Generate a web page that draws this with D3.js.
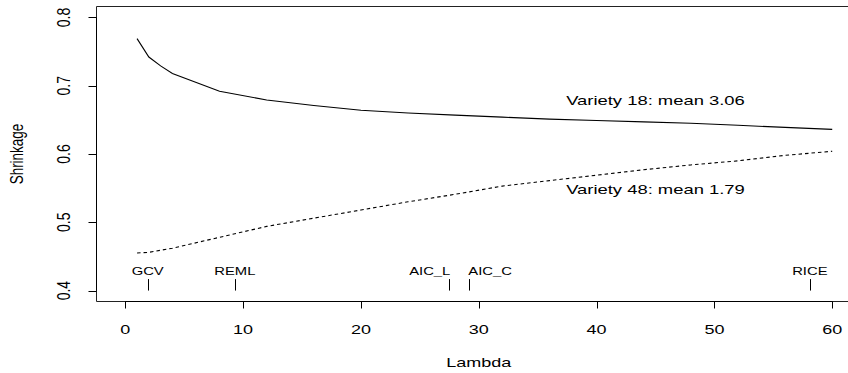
<!DOCTYPE html>
<html>
<head>
<meta charset="utf-8">
<script src="https://cdn.jsdelivr.net/npm/d3@7"></script>
<style>
	body { margin: 0; background: #fff; }
	svg { display: block; }
	text { font-family: 'Liberation Sans', Arial, sans-serif; fill: #000; }
</style>
</head>
<body>
<svg id="chart" width="848" height="373"></svg>
<script>

/* Shrinkage against lambda for two varieties, with the lambda chosen
by each estimator marked along the bottom of the plot */

// Lambda grid of the two curves
var lambdas = [1, 2, 3, 4, 8, 12, 16, 20, 24, 28, 32, 36, 40, 44, 48, 52, 56, 60];

// Shrinkage, variety 18 (solid) and variety 48 (dashed)
var variety18 = [0.769, 0.742, 0.729, 0.718, 0.692, 0.679, 0.671, 0.664, 0.660,
	0.657, 0.654, 0.651, 0.649, 0.647, 0.645, 0.642, 0.639, 0.636];
var variety48 = [0.455, 0.456, 0.459, 0.462, 0.478, 0.494, 0.506, 0.518, 0.530,
	0.541, 0.553, 0.561, 0.569, 0.577, 0.584, 0.590, 0.598, 0.604];

// Curve labels
var seriesNames = ['Variety 18: mean 3.06', 'Variety 48: mean 1.79'];
var seriesLabelAt = [[45, 0.68], [45, 0.55]];

// Estimators and the lambda each one picks
var estimators = ['GCV', 'REML', 'AIC_L', 'AIC_C', 'RICE'];
var estimatorLambda = [1.9, 9.3, 27.5, 29.2, 58.1];

// Axis ticks and titles
var xTicks = [0, 10, 20, 30, 40, 50, 60];
var yTicks = [0.4, 0.5, 0.6, 0.7, 0.8];
var xTitle = 'Lambda';
var yTitle = 'Shrinkage';

// The picture is stretched sideways, so text is too
var stretch = 1.385;

var svg = d3.select('#chart');

// Scales (R style: data range padded by 4% on each side)
var xScale = d3.scaleLinear()
	.domain([-2.4, 62.4])
	.range([97, 860.5]);

var yScale = d3.scaleLinear()
	.domain([0.384, 0.816])
	.range([301.5, 6.5]);

var plotLeft = xScale.range()[0] - 0.5;
var plotBottom = yScale.range()[0];
var plotTop = yScale.range()[1];

// Plot box (right edge falls outside the picture)
svg.append('path')
	.attr('d', 'M900,' + plotTop + 'H' + plotLeft + 'V' + plotBottom + 'H900')
	.attr('fill', 'none')
	.attr('stroke', '#222')
	.attr('stroke-width', 1);

// x axis
var xAxis = svg.append('g').attr('class', 'x axis');

xAxis.append('line')
	.attr('x1', xScale(xTicks[0]))
	.attr('x2', xScale(xTicks[xTicks.length - 1]))
	.attr('y1', plotBottom)
	.attr('y2', plotBottom)
	.attr('stroke', '#000');

xAxis.selectAll('.tick')
	.data(xTicks)
	.enter()
	.append('line')
	.attr('class', 'tick')
	.attr('x1', function(d) { return Math.round(xScale(d)) + 0.5; })
	.attr('x2', function(d) { return Math.round(xScale(d)) + 0.5; })
	.attr('y1', plotBottom)
	.attr('y2', plotBottom + 7)
	.attr('stroke', '#000');

xAxis.selectAll('.tick-label')
	.data(xTicks)
	.enter()
	.append('text')
	.attr('class', 'tick-label')
	.attr('transform', function(d) {
		return 'translate(' + xScale(d) + ',333.5) scale(' + stretch + ',1)';
	})
	.style('font-size', '13px')
	.style('text-anchor', 'middle')
	.text(function(d) { return d; });

svg.append('text')
	.attr('transform', 'translate(' + d3.mean(xScale.range()) + ',366.5) scale(' + stretch + ',1)')
	.style('font-size', '13px')
	.style('text-anchor', 'middle')
	.text(xTitle);

// y axis
var yAxis = svg.append('g').attr('class', 'y axis');

yAxis.append('line')
	.attr('x1', plotLeft)
	.attr('x2', plotLeft)
	.attr('y1', yScale(yTicks[0]))
	.attr('y2', yScale(yTicks[yTicks.length - 1]))
	.attr('stroke', '#000');

yAxis.selectAll('.tick')
	.data(yTicks)
	.enter()
	.append('line')
	.attr('class', 'tick')
	.attr('x1', plotLeft - 8)
	.attr('x2', plotLeft)
	.attr('y1', function(d) { return Math.round(yScale(d)) + 0.5; })
	.attr('y2', function(d) { return Math.round(yScale(d)) + 0.5; })
	.attr('stroke', '#000');

yAxis.selectAll('.tick-label')
	.data(yTicks)
	.enter()
	.append('text')
	.attr('class', 'tick-label')
	.attr('transform', function(d) {
		return 'translate(70,' + yScale(d) + ') scale(1.35,1) rotate(-90)';
	})
	.style('font-size', '14px')
	.style('text-anchor', 'middle')
	.text(function(d) { return d3.format('.1f')(d); });

svg.append('text')
	.attr('transform', 'translate(23,' + ((plotTop + plotBottom) / 2) + ') scale(1.3,1) rotate(-90)')
	.style('font-size', '13.5px')
	.style('text-anchor', 'middle')
	.text(yTitle);

// Curves
var line = d3.line()
	.x(function(d) { return xScale(d[0]); })
	.y(function(d) { return yScale(d[1]); });

var curves = [variety18, variety48].map(function(values) {
	return lambdas.map(function(l, i) { return [l, values[i]]; });
});

svg.selectAll('.curve')
	.data(curves)
	.enter()
	.append('path')
	.attr('class', 'curve')
	.attr('d', line)
	.attr('fill', 'none')
	.attr('stroke', '#000')
	.attr('stroke-width', 1.1)
	.attr('stroke-dasharray', function(d, i) { return i == 0 ? null : '3.5,3'; });

// Curve labels
svg.selectAll('.series-label')
	.data(seriesNames)
	.enter()
	.append('text')
	.attr('class', 'series-label')
	.attr('transform', function(d, i) {
		var p = seriesLabelAt[i];
		return 'translate(' + xScale(p[0]) + ',' + (yScale(p[1]) + 5.5) + ') scale(' + stretch + ',1)';
	})
	.style('font-size', '13.3px')
	.style('text-anchor', 'middle')
	.text(function(d) { return d; });

// Estimator marks
var marks = svg.selectAll('.estimator')
	.data(estimators)
	.enter()
	.append('g')
	.attr('class', 'estimator');

marks.append('line')
	.attr('x1', function(d, i) { return Math.round(xScale(estimatorLambda[i])) + 0.5; })
	.attr('x2', function(d, i) { return Math.round(xScale(estimatorLambda[i])) + 0.5; })
	.attr('y1', yScale(0.4))
	.attr('y2', yScale(0.4) - 11.5)
	.attr('stroke', '#000');

// AIC_L and AIC_C sit close, so they are pushed apart
marks.append('text')
	.attr('transform', function(d, i) {
		var shift = d == 'AIC_L' ? 1 : d == 'AIC_C' ? -1 : 0;
		return 'translate(' + (xScale(estimatorLambda[i]) + shift) + ',' + (yScale(0.4) - 16) + ') scale(' + stretch + ',1)';
	})
	.style('font-size', '10.7px')
	.style('text-anchor', function(d) {
		if (d == 'AIC_L') { return 'end'; }
		if (d == 'AIC_C') { return 'start'; }
		return 'middle';
	})
	.text(function(d) { return d; });

</script>
</body>
</html>
